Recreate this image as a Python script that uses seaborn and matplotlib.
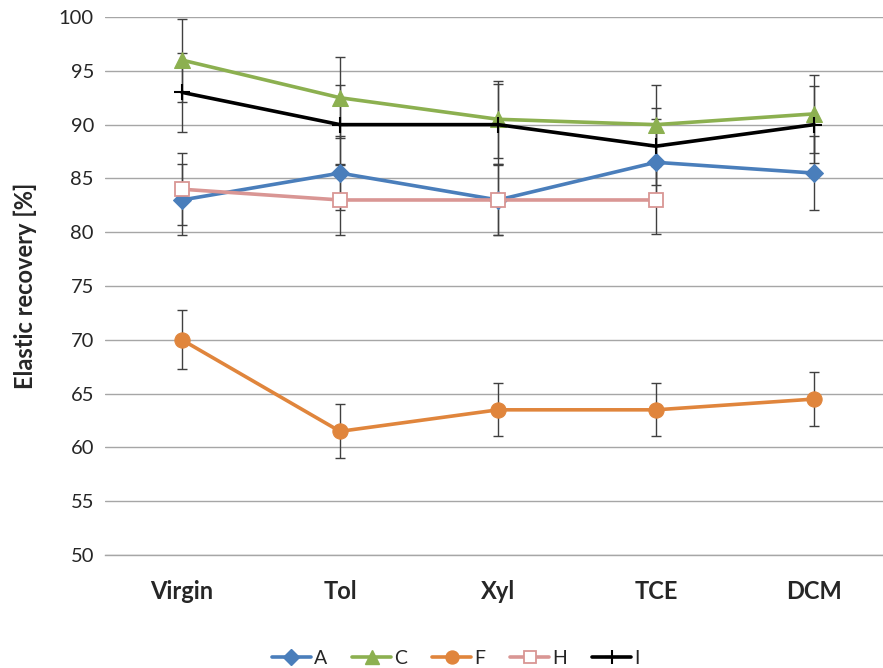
import numpy as np
import pandas as pd
import matplotlib
matplotlib.use("Agg")
import matplotlib.pyplot as plt
import seaborn as sns

sns.set_style("white")
plt.rcParams["font.family"] = ["Lato", "DejaVu Sans"]

categories = ["Virgin", "Tol", "Xyl", "TCE", "DCM"]

a_vals = [83, 85.5, 83, 86.5, 85.5]
a_err = [3.3, 3.4, 3.3, 4.0, 3.4]
c_vals = [96, 92.5, 90.5, 90, 91]
c_err = [3.85, 3.75, 3.6, 3.7, 3.6]
f_vals = [70, 61.5, 63.5, 63.5, 64.5]
f_err = [2.75, 2.5, 2.45, 2.45, 2.5]
h_vals = [84, 83, 83, 83, np.nan]
h_err = [3.35, 3.25, 3.3, 3.2, np.nan]
i_vals = [93, 90, 90, 88, 90]
i_err = [3.7, 3.7, 3.75, 3.57, 3.6]

series = {
    "A": (a_vals, a_err),
    "C": (c_vals, c_err),
    "F": (f_vals, f_err),
    "H": (h_vals, h_err),
    "I": (i_vals, i_err),
}

colors = {"A": "#4A7EBB", "C": "#8CB050", "F": "#E0853C", "H": "#D99694", "I": "#000000"}

rows = []
for name, (vals, errs) in series.items():
    for cat, v, e in zip(categories, vals, errs):
        rows.append({"cond": cat, "value": v, "err": e, "series": name})
df = pd.DataFrame(rows)

fig = plt.figure(figsize=(8.83, 6.68), dpi=100)
ax = fig.add_axes([0.119, 0.169, 0.881, 0.8055])

xpos = {c: i for i, c in enumerate(categories)}
df["x"] = df["cond"].map(xpos)

# error bars first, lines on top
for name in series:
    sub = df[(df["series"] == name) & df["value"].notna()]
    ax.errorbar(sub["x"], sub["value"], yerr=sub["err"], fmt="none",
                ecolor="#404040", elinewidth=1.0, capsize=3.5, capthick=1.0, zorder=2)

def marker_style(name, scale=1.0):
    col = colors[name]
    if name == "H":
        return dict(marker="s", markersize=10 * scale, markerfacecolor="white",
                    markeredgecolor=col, markeredgewidth=1.3)
    if name == "I":
        return dict(marker="+", markersize=12 * scale, markeredgecolor=col, markeredgewidth=1.5)
    if name == "A":
        return dict(marker="D", markersize=9.5 * scale, markerfacecolor=col, markeredgecolor=col)
    if name == "C":
        return dict(marker="^", markersize=12 * scale, markerfacecolor=col, markeredgecolor=col)
    return dict(marker="o", markersize=11 * scale, markerfacecolor=col, markeredgecolor=col)

handles = []
for k, name in enumerate(series):
    sub = df[(df["series"] == name) & df["value"].notna()]
    col = colors[name]
    sns.lineplot(data=sub, x="x", y="value", ax=ax, color=col, linewidth=2.6,
                 zorder=3 + k, legend=False, **marker_style(name))
    h, = ax.plot([], [], color=col, linewidth=2.6, label=name, **marker_style(name, 0.85))
    handles.append(h)

ax.set_xlim(-0.487, 4.437)
ax.set_ylim(50, 100)
ax.set_yticks(np.arange(50, 101, 5))
ax.set_xticks(range(len(categories)))
ax.set_xticklabels(categories, fontsize=17, fontweight="bold")
ax.tick_params(axis="y", labelsize=14.5, length=0, pad=8)
ax.tick_params(axis="x", length=0, pad=18)
ax.set_xlabel("")
ax.set_ylabel("Elastic recovery [%]", fontsize=17, fontweight="bold", labelpad=16)

ax.grid(axis="y", color="#A6A6A6", linewidth=1.0)
ax.set_axisbelow(True)
for s in ["top", "right", "left"]:
    ax.spines[s].set_visible(False)
ax.spines["bottom"].set_color("#A6A6A6")
ax.spines["bottom"].set_linewidth(1.0)

fig.legend(handles=handles, loc="center", bbox_to_anchor=(0.516, 0.014), ncol=5,
           frameon=False, fontsize=14, handlelength=2.0, columnspacing=1.3,
           handletextpad=0.15)

fig.savefig("out.png", dpi=100)
